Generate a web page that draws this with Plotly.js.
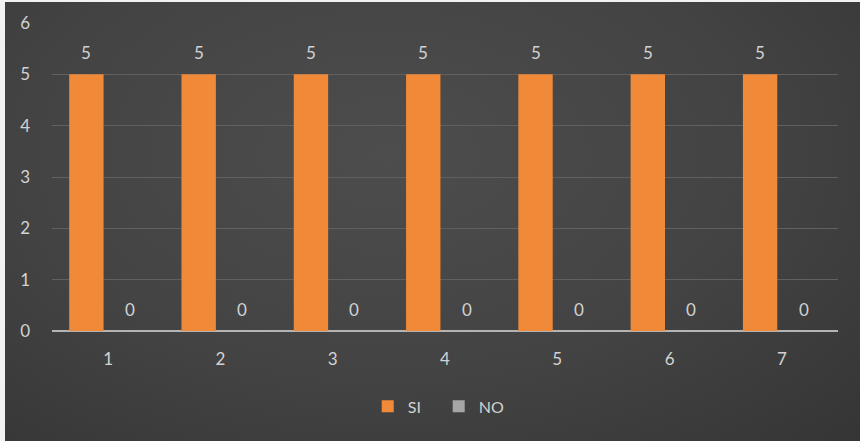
<!DOCTYPE html>
<html>
<head>
<meta charset="utf-8">
<script src="https://cdn.plot.ly/plotly-3.0.1.min.js"></script>
<style>
  html, body { margin: 0; padding: 0; background: #ffffff; }
  #chart {
    width: 860px; height: 441px;
    background:
      linear-gradient(to right, #f2f2f2 0px, #f2f2f2 5px, transparent 5px),
      linear-gradient(to bottom, #f2f2f2 0px, #f2f2f2 2px, transparent 2px),
      radial-gradient(ellipse at 45% 35%, #4d4d4d 0%, #434343 55%, #353535 100%);
  }
</style>
</head>
<body>
<div id="chart"></div>
<script>
const categories = ['1', '2', '3', '4', '5', '6', '7'];
const siValues = [5, 5, 5, 5, 5, 5, 5];
const noValues = [0, 0, 0, 0, 0, 0, 0];
const seriesNames = ['SI', 'NO'];

const FONT = 'Lato, Open Sans, sans-serif';
const labelFont = { family: FONT, size: 17, color: '#d2d2d2' };

const traces = [
  { type: 'bar', name: seriesNames[0], x: categories, y: siValues,
    marker: { color: '#f18a38' }, hoverinfo: 'skip' },
  { type: 'bar', name: seriesNames[1], x: categories, y: noValues,
    marker: { color: '#a5a5a5' }, hoverinfo: 'skip' }
];

// data labels, positioned over each bar of the group (x = category index)
const annotations = [];
[siValues, noValues].forEach((vals, s) => {
  vals.forEach((v, i) => {
    annotations.push({
      x: i, y: v, xref: 'x', yref: 'y',
      text: String(v), showarrow: false,
      xshift: s === 0 ? -21.7 : 21.7, yshift: 22,
      xanchor: 'center', yanchor: 'middle', font: labelFont
    });
  });
});

const layout = {
  width: 860, height: 441,
  paper_bgcolor: 'rgba(0,0,0,0)', plot_bgcolor: 'rgba(0,0,0,0)',
  margin: { l: 52, r: 22, t: 23, b: 109.5 },
  barmode: 'group', bargap: 0.225, bargroupgap: 0.21,
  font: labelFont,
  annotations: annotations,
  xaxis: {
    type: 'category', range: [-0.5, categories.length - 0.5], autorange: false,
    showgrid: false, zeroline: false,
    showline: false, ticks: '', tickfont: labelFont, ticklabelstandoff: 16
  },
  yaxis: {
    range: [0, 6], dtick: 1, showgrid: true, gridcolor: '#606060', gridwidth: 1,
    zeroline: true, zerolinecolor: '#b4b4b4', zerolinewidth: 2.5,
    showline: false, ticks: '', tickfont: labelFont, ticklabelstandoff: 21
  },
  showlegend: true,
  legend: {
    orientation: 'h', x: 0.492, xanchor: 'center', y: -0.245, yanchor: 'middle',
    font: { family: FONT, size: 16, color: '#d2d2d2' },
    itemwidth: 30, entrywidth: 26, entrywidthmode: 'pixels',
    traceorder: 'normal', bgcolor: 'rgba(0,0,0,0)'
  }
};

Plotly.newPlot('chart', traces, layout, { displayModeBar: false, staticPlot: true });
</script>
</body>
</html>
